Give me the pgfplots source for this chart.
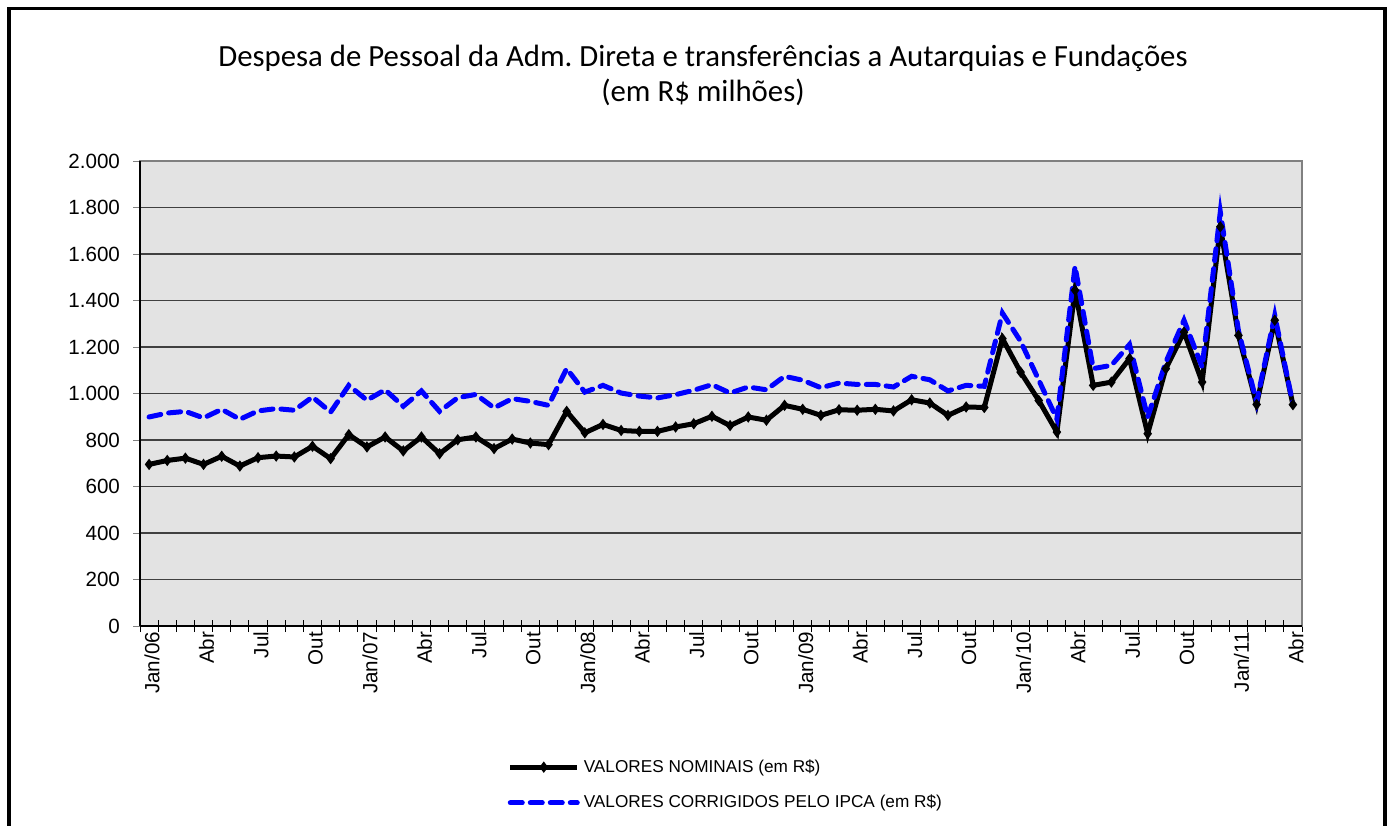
\documentclass[border=0pt]{standalone}
\usepackage{pgfplots}
\pgfplotsset{compat=1.18}
\usepackage{fontspec}
\setmainfont{Liberation Sans}
\newfontfamily\titlefont{Carlito}
\definecolor{bgray}{RGB}{227,227,227}
\definecolor{pblue}{RGB}{0,0,255}
\frenchspacing
\begin{document}
\begin{tikzpicture}
\path[use as bounding box] (0pt,0pt) rectangle (695.5pt,412.5pt);
\draw[line width=1.6pt] (4.5pt,-5pt) rectangle (692.5pt,408.2pt);
\node[font=\titlefont\fontsize{15.4pt}{17.5pt}\selectfont, align=center] at (351.5pt,375pt)
  {Despesa de Pessoal da Adm. Direta e transferências a Autarquias e Fundações\\(em R\$ milhões)};
\begin{axis}[
  at={(70pt,99.5pt)}, anchor=south west,
  scale only axis, width=581pt, height=232.5pt,
  xmin=-0.5, xmax=63.5, ymin=0, ymax=2000,
  axis background/.style={fill=bgray},
  axis line style={draw=gray, line width=0.8pt},
  tick pos=left,
  ytick={0,200,...,2000},
  ymajorgrids,
  major grid style={draw=black!75, line width=0.6pt},
  yticklabel style={font=\fontsize{10.3pt}{12pt}\selectfont, xshift=-3pt, /pgf/number format/.cd, fixed, 1000 sep={.}, assume math mode=true},
  ytick align=outside,
  major tick length=3.5pt,
  xtick={0,3,...,63},
  xticklabels={Jan/06,Abr,Jul,Out,Jan/07,Abr,Jul,Out,Jan/08,Abr,Jul,Out,Jan/09,Abr,Jul,Out,Jan/10,Abr,Jul,Out,Jan/11,Abr},
  xticklabel style={rotate=90, anchor=east, font=\fontsize{10.3pt}{12pt}\selectfont, inner sep=1pt, yshift=-1.5pt},
  major x tick style={draw=none},
  minor xtick={-0.5,0.5,...,63.5},
  minor tick length=6pt,
  xtick align=center,
  minor x tick style={draw=black, line width=0.5pt},
  legend style={at={(0.505,-0.342)}, anchor=center, draw=none, fill=none,
    font=\fontsize{8.6pt}{10pt}\selectfont, row sep=6pt},
  legend cell align=left,
  legend image code/.code={\draw[mark repeat=2, mark phase=2, #1] plot coordinates {(0pt,0pt) (16.75pt,0pt) (33.5pt,0pt)};},
  clip=false,
]
\addplot[black, line width=2.5pt, mark=diamond*, mark size=0.8pt, mark options={solid}] coordinates {
(0,695) (1,712) (2,722) (3,695) (4,730) (5,688) (6,724) (7,731) (8,727) (9,773)
(10,720) (11,823) (12,770) (13,813) (14,753) (15,813) (16,741) (17,801) (18,813) (19,763)
(20,804) (21,787) (22,780) (23,923) (24,831) (25,867) (26,841) (27,837) (28,837) (29,856)
(30,870) (31,902) (32,862) (33,899) (34,885) (35,949) (36,932) (37,906) (38,930) (39,928)
(40,932) (41,925) (42,973) (43,959) (44,906) (45,942) (46,940) (47,1236) (48,1092) (49,970)
(50,834) (51,1444) (52,1035) (53,1049) (54,1150) (55,827) (56,1107) (57,1264) (58,1049) (59,1717)
(60,1250) (61,953) (62,1315) (63,952)
};
\addlegendentry{VALORES NOMINAIS (em R\$)}
\addplot[pblue, line width=2.5pt, dash pattern=on 6pt off 4pt, line cap=round] coordinates {
(0,899) (1,916) (2,923) (3,895) (4,932) (5,889) (6,925) (7,935) (8,928) (9,985)
(10,920) (11,1035) (12,971) (13,1016) (14,945) (15,1011) (16,923) (17,982) (18,996) (19,938)
(20,978) (21,966) (22,949) (23,1107) (24,1006) (25,1035) (26,1002) (27,989) (28,981) (29,995)
(30,1014) (31,1038) (32,1002) (33,1028) (34,1016) (35,1074) (36,1057) (37,1025) (38,1045) (39,1039)
(40,1039) (41,1028) (42,1074) (43,1059) (44,1011) (45,1035) (46,1031) (47,1346) (48,1225) (49,1058)
(50,890) (51,1547) (52,1107) (53,1121) (54,1211) (55,898) (56,1135) (57,1315) (58,1114) (59,1781)
(60,1270) (61,963) (62,1336) (63,953)
};
\addlegendentry{VALORES CORRIGIDOS PELO IPCA (em R\$)}
\draw[black, line width=1pt] (rel axis cs:0,0) -- (rel axis cs:0,1);
\draw[black, line width=1pt] (rel axis cs:0,0) -- (rel axis cs:1,0);
\end{axis}
\end{tikzpicture}
\end{document}
